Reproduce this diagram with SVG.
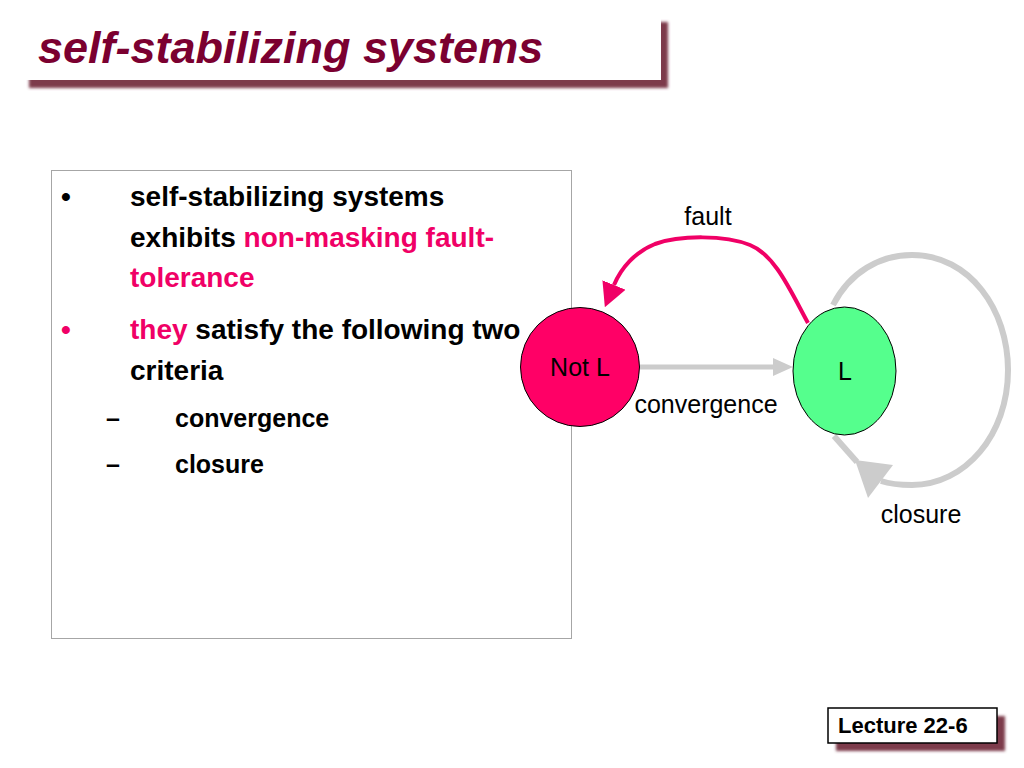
<svg xmlns="http://www.w3.org/2000/svg" width="1024" height="768" viewBox="0 0 1024 768">
  <style>
    .t{font-family:"Liberation Sans",Arial,sans-serif}
    .b{font-weight:bold}
    .pk{fill:#f00066}
    .bk{fill:#000}
    .lbl{font-family:"Liberation Sans",Arial,sans-serif;font-size:25px;fill:#000}
    .gray{stroke:#cccccc;fill:none}
  </style>
  <defs>
    <filter id="blur" x="-5%" y="-20%" width="110%" height="140%">
      <feGaussianBlur stdDeviation="1.5"/>
    </filter>
    <marker id="pinkHead" markerUnits="userSpaceOnUse" viewBox="0 -13 24 26" markerWidth="24" markerHeight="26" refX="0" refY="0" orient="auto">
      <path d="M0,-12.5 L24,0 L0,12.5 z" fill="#f00066"/>
    </marker>
    <marker id="grayHead" markerUnits="userSpaceOnUse" viewBox="0 -10 20 20" markerWidth="20" markerHeight="20" refX="0" refY="0" orient="auto">
      <path d="M0,-9 L20,0 L0,9 z" fill="#cccccc"/>
    </marker>
  </defs>
  <rect width="1024" height="768" fill="#ffffff"/>

  <g id="title">
    <rect x="29" y="22" width="639" height="66" fill="#7d3a4c" filter="url(#blur)"/>
    <rect x="22" y="14" width="639" height="66" fill="#ffffff"/>
    <text x="38" y="63" class="t b" font-style="italic" font-size="45" fill="#7b0030">self-stabilizing systems</text>
  </g>

  <g id="textbox">
    <rect x="51.5" y="170.5" width="520" height="468" fill="#ffffff" stroke="#a6a6a6" stroke-width="1"/>
    <text x="61" y="206" class="t b bk" font-size="28">•</text>
    <text x="130" y="206" class="t b bk" font-size="28">self-stabilizing systems</text>
    <text x="130" y="247" class="t b" font-size="28"><tspan class="bk">exhibits </tspan><tspan class="pk">non-masking fault-</tspan></text>
    <text x="130" y="287" class="t b pk" font-size="28">tolerance</text>
    <text x="61" y="339" class="t b pk" font-size="28">•</text>
    <text x="130" y="339" class="t b" font-size="28"><tspan class="pk">they</tspan><tspan class="bk"> satisfy the following two</tspan></text>
    <text x="130" y="380" class="t b bk" font-size="28">criteria</text>
    <text x="106" y="427" class="t b bk" font-size="25">–</text>
    <text x="175" y="427" class="t b bk" font-size="25">convergence</text>
    <text x="106" y="473" class="t b bk" font-size="25">–</text>
    <text x="175" y="473" class="t b bk" font-size="25">closure</text>
  </g>

  <g id="connectors">
    <path id="closure-loop" class="gray" stroke-width="6" d="M833,305 C850,272 880,255 912,255 C970,255 1008,310 1008,370 C1008,435 965,485 912,485 C900,485 890,484 881,481"/>
    <line class="gray" stroke-width="6" x1="857" y1="462" x2="834" y2="436"/>
    <polygon points="855,460 893,465 868,498" fill="#cccccc"/>
    <line id="convergence-arrow" class="gray" stroke-width="5" x1="640" y1="367" x2="773" y2="367" marker-end="url(#grayHead)"/>
    <path id="fault-arrow" fill="none" stroke="#f00066" stroke-width="4" d="M808,323 C790,290 775,255 750,245 C725,235 680,235 655,244 C635,252 621,268 614,285" marker-end="url(#pinkHead)"/>
    <text x="708" y="225" class="lbl" text-anchor="middle">fault</text>
    <text x="706" y="413" class="lbl" text-anchor="middle">convergence</text>
    <text x="921" y="523" class="lbl" text-anchor="middle">closure</text>
  </g>

  <g id="node-notL">
    <circle cx="580" cy="367" r="59.5" fill="#ff0066" stroke="#000" stroke-width="1"/>
    <text x="580" y="376" class="lbl" text-anchor="middle">Not L</text>
  </g>

  <g id="node-L">
    <ellipse cx="844.5" cy="371" rx="51.5" ry="64" fill="#55ff8d" stroke="#000" stroke-width="1"/>
    <text x="845" y="380" class="lbl" text-anchor="middle">L</text>
  </g>

  <g id="footer">
    <rect x="836" y="716" width="169" height="35" fill="#7d3a4c" filter="url(#blur)"/>
    <rect x="828" y="708" width="169" height="35" fill="#ffffff" stroke="#000" stroke-width="1.5"/>
    <text x="838" y="733" class="t b bk" font-size="22">Lecture 22-6</text>
  </g>
</svg>
